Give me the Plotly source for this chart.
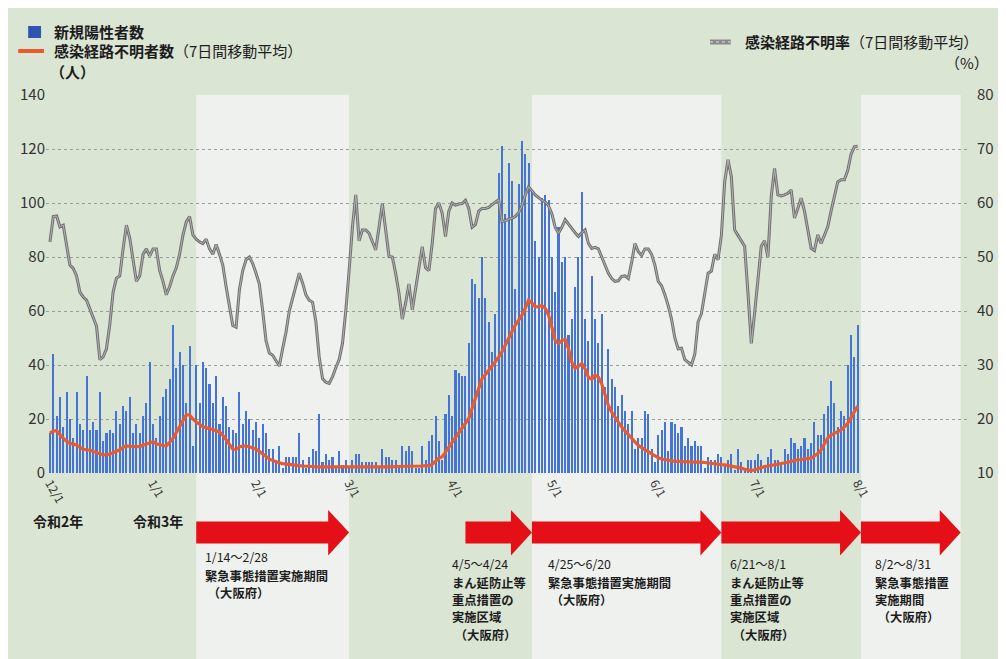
import pandas as pd
import plotly.graph_objects as go

# ---------------- data ----------------
start_date = "2020-12-01"

new_cases = [
    15, 44, 21, 28, 17, 30, 20, 13, 30, 18, 16, 36, 16, 19, 16, 30, 12, 15, 16, 15,
    23, 18, 25, 23, 28, 15, 18, 15, 21, 26, 41, 18, 13, 21, 28, 31, 35, 55, 39, 45,
    40, 26, 47, 10, 40, 26, 41, 39, 33,
    26, 36, 18, 28, 25, 17, 16, 15, 30, 18, 23, 20, 16, 19, 13, 18, 15, 9, 9, 5,
    10, 2, 6, 6, 6, 6, 15, 5, 2, 6, 9, 8, 22, 4, 7, 5, 6, 2, 8, 3,
    5, 2, 5, 7, 7, 4, 4, 4, 4,
    4, 2, 9, 6, 6, 5, 5, 3, 10, 8, 10, 8, 2, 2, 10, 5, 12, 14, 21, 12,
    5, 22, 29, 21, 38, 37, 36, 36, 48, 72, 70, 65, 80, 65, 56, 45, 59, 111, 121, 96,
    115, 108, 68, 107, 123, 118, 115, 105, 86,
    80, 102, 103, 101, 80, 67, 91, 78, 80, 51, 57, 69, 80, 104, 57, 49, 73, 57, 48, 59,
    32, 46, 35, 32, 25, 29, 23, 18, 23, 9, 13, 13, 23, 22, 9, 4, 14, 16, 19, 8,
    19, 18, 15, 17, 10, 13, 10, 12, 10,
    10, 2, 6, 5, 5, 7, 6, 3, 5, 7, 1, 9, 4, 1, 5, 5, 5, 7, 5, 3,
    6, 9, 5, 5, 3, 9, 7, 13, 11, 9, 10, 13, 9, 11, 19, 14, 14, 22, 25, 34,
    26, 17, 23, 21, 40, 51, 43, 55,
]

unknown_avg = [
    14.8, 15.5, 15.7, 14.2, 12.8, 11.8, 11.0, 10.7, 10.4, 9.5,
    8.8, 8.6, 8.5, 8.0, 7.5, 7.0, 6.7, 6.8, 7.0, 7.5,
    7.9, 8.6, 9.5, 10.0, 9.9, 9.8, 9.8, 9.8, 10.3, 10.7,
    11.2, 11.6, 10.8, 10.4, 10.2, 10.0, 11.5, 12.8, 15.0, 17.1,
    19.5, 21.5, 21.5, 20.0, 19.0, 18.0, 17.1, 16.8, 16.5,
    16.0, 15.6, 15.2, 14.0, 12.3, 10.5, 8.8, 8.8, 9.6, 10.0,
    10.0, 9.7, 9.4, 8.8, 8.0, 7.0, 6.0, 5.2, 4.6, 4.1,
    3.8, 3.5, 3.3, 3.1, 3.0, 2.8, 2.7, 2.6, 2.6, 2.5,
    2.4, 2.3, 2.3, 2.2, 2.2, 2.2, 2.1, 2.1, 2.1, 2.1,
    2.1, 2.1, 2.1, 2.1, 2.1, 2.1, 2.1, 2.1, 2.1,
    2.2, 2.2, 2.3, 2.3, 2.3, 2.3, 2.4, 2.4, 2.4, 2.5,
    2.5, 2.5, 2.6, 2.6, 2.6, 2.7, 2.7, 3.2, 4.5, 5.5,
    6.0, 7.8, 9.8, 11.6, 13.4, 15.3, 17.1, 18.6, 20.2, 24.0,
    27.6, 31.5, 35.0, 36.5, 38.0, 39.6, 41.2, 43.0, 44.9, 47.4,
    49.9, 52.3, 54.8, 56.6, 58.5, 61.0, 64.0, 63.0, 61.5,
    61.6, 62.0, 61.0, 58.5, 54.0, 49.0, 48.0, 49.0, 49.5, 46.0,
    41.0, 38.8, 39.5, 40.6, 38.5, 35.5, 34.7, 36.3, 35.5, 33.0,
    29.0, 25.0, 22.5, 20.5, 18.6, 17.0, 15.6, 14.3, 13.0, 11.6,
    10.2, 9.4, 8.6, 8.0, 7.3, 6.4, 5.6, 5.2, 4.9, 4.6,
    4.4, 4.3, 4.3, 4.2, 4.2, 4.1, 4.1, 4.0, 4.0,
    4.0, 3.9, 3.7, 3.5, 3.3, 3.2, 3.1, 3.0, 2.8, 2.7,
    2.5, 2.2, 1.8, 1.4, 1.0, 0.9, 1.2, 1.7, 2.2, 2.4,
    2.6, 2.8, 3.0, 3.2, 3.4, 3.7, 4.0, 4.3, 4.7, 4.9,
    5.0, 5.2, 5.3, 5.5, 6.3, 7.2, 8.5, 11.0, 13.0, 14.0,
    14.6, 15.3, 16.0, 17.0, 18.4, 20.5, 22.5, 24.8,
]

unknown_rate = [
    52.8, 57.5, 57.6, 55.6, 55.9, 51.9, 48.5, 47.9, 46.5, 43.5,
    42.6, 42.0, 40.2, 38.8, 37.2, 31.0, 31.5, 33.0, 37.5, 43.5,
    46.1, 46.5, 51.5, 55.9, 53.5, 49.5, 45.5, 46.5, 50.5, 51.5,
    50.2, 51.5, 51.5, 47.5, 45.5, 43.0, 44.5, 46.5, 48.0, 50.5,
    54.0, 56.5, 57.5, 54.1, 53.3, 52.8, 52.5, 53.3, 51.5, 50.5,
    52.3, 50.5, 48.5, 44.5, 40.5, 37.3, 37.0, 44.0, 47.5, 49.5,
    50.0, 48.8, 47.0, 45.0, 40.0, 34.5, 32.2, 31.8, 30.8, 29.8,
    33.0, 36.0, 40.0, 42.3, 45.0, 47.0, 45.2, 43.0, 42.0, 41.6,
    38.0, 31.5, 27.5, 26.8, 26.6, 27.8, 29.5, 31.0, 34.0, 40.0,
    47.5, 55.5, 61.5, 53.0,
    55.0, 55.0, 54.4, 53.0, 51.3, 55.5,
    59.9, 55.0, 50.1, 50.0, 47.0, 43.3, 38.5, 41.5, 45.0, 40.2,
    44.0, 48.0, 51.9, 48.0, 47.5, 52.5, 59.0, 60.0, 58.1, 53.8,
    58.5, 60.0, 59.6, 59.8, 59.9, 60.5, 59.0, 55.5, 56.0, 58.5,
    59.0, 59.0, 59.2, 59.7, 60.2, 60.6, 56.5, 56.7, 56.9, 57.2,
    57.5, 58.2, 59.5, 61.5, 63.0, 62.2, 61.5, 61.0, 60.5, 60.2,
    59.5, 58.0, 55.5, 54.4, 55.5, 56.9, 56.0, 55.3, 54.5, 53.8,
    54.5, 55.0, 52.5, 51.6, 51.8, 51.5, 50.0, 48.5, 47.0, 46.0,
    45.5, 45.6, 46.4, 46.5, 46.0, 49.0, 52.5, 51.0, 50.3, 51.5,
    51.5, 50.5, 48.5, 45.5, 44.7, 43.0, 41.0, 38.5, 35.0, 33.0,
    33.1, 31.0,
    30.5, 30.0, 32.0, 38.0, 39.5, 43.0, 47.0, 47.4,
    50.5, 49.5, 54.0, 64.0, 68.0, 64.9, 55.0, 54.0, 53.0, 52.0,
    43.3, 34.0, 39.6, 46.4, 52.0, 53.0, 50.0, 61.2, 66.4, 61.5,
    61.3, 61.5, 61.8, 62.4, 57.2, 59.0, 60.9, 58.5, 55.0, 51.6,
    51.2, 54.1, 52.5, 54.0, 55.6, 58.5, 61.5, 63.9, 64.3, 64.3,
    66.0, 69.0, 70.4, 70.5,
]

month_ticks = ["2020-12-01", "2021-01-01", "2021-02-01", "2021-03-01", "2021-04-01",
               "2021-05-01", "2021-06-01", "2021-07-01", "2021-08-01"]
month_labels = ["12/1", "1/1", "2/1", "3/1", "4/1", "5/1", "6/1", "7/1", "8/1"]

period_starts = ["2021-01-14", "2021-04-05", "2021-04-25", "2021-06-21", "2021-08-02"]
period_ends = ["2021-02-28", "2021-04-24", "2021-06-20", "2021-08-01", "2021-08-31"]
period_is_emergency = [True, False, True, False, True]
period_dates = ["1/14〜2/28", "4/5〜4/24", "4/25〜6/20", "6/21〜8/1", "8/2〜8/31"]
period_texts = [
    ["緊急事態措置実施期間", " （大阪府）"],
    ["まん延防止等", "重点措置の", "実施区域", " （大阪府）"],
    ["緊急事態措置実施期間", " （大阪府）"],
    ["まん延防止等", "重点措置の", "実施区域", " （大阪府）"],
    ["緊急事態措置", "実施期間", " （大阪府）"],
]
# (left x, centre y of date line) in picture pixels
period_text_pos = [(203, 557), (452, 564), (549, 564), (732, 564), (878, 564)]
DATE_GAP = 18.5
LINE_STEP = 17.4
PERIOD_FONT = 12.3

# ---------------- layout helpers ----------------
# picture pixel frame (page has an 8px body margin)
PAGE_W, PAGE_H, OFF = 1006, 659, 8
W, H = PAGE_W - OFF, PAGE_H - OFF
L, R, T, B = 44, 975, 95, 473  # plot area in picture pixels


def fx(px):
    return (px - L) / (R - L)


def fy(py):
    return (B - py) / (B - T)


dates = pd.date_range(start_date, periods=len(new_cases), freq="D")
day0 = pd.Timestamp(start_date)
px_per_day = 3.349
x_left = day0 + pd.Timedelta(days=(L - 48) / px_per_day)
x_right = day0 + pd.Timedelta(days=(R - 48) / px_per_day)

FONT = "Noto Sans CJK JP"
TXT = "#1c1c1c"

fig = go.Figure()
fig.add_trace(go.Bar(
    x=dates, y=new_cases, width=0.62 * 86400000,
    marker=dict(color="#4474d8", line=dict(width=0)),
    name="新規陽性者数", yaxis="y"))
fig.add_trace(go.Scatter(
    x=dates, y=unknown_avg, mode="lines",
    line=dict(color="#ea5a2a", width=3.2), name="感染経路不明者数", yaxis="y"))
fig.add_trace(go.Scatter(
    x=dates, y=unknown_rate, mode="lines",
    line=dict(color="#707070", width=3.0), name="感染経路不明率", yaxis="y2"))
fig.add_trace(go.Scatter(
    x=dates, y=unknown_rate, mode="lines",
    line=dict(color="#b4b4b4", width=1.0), hoverinfo="skip", yaxis="y2"))

shapes = []
annotations = []


def fmt(ts):
    return ts.strftime("%Y-%m-%d_%H:%M")


for s, e, emerg, dtxt, lines, (tx, ty) in zip(period_starts, period_ends,
                                               period_is_emergency, period_dates,
                                               period_texts, period_text_pos):
    t0 = pd.Timestamp(s)
    t1 = pd.Timestamp(e) + pd.Timedelta(days=1)
    if emerg:
        shapes.append(dict(type="rect", xref="x", yref="paper", x0=t0, x1=t1,
                           y0=fy(PAGE_H), y1=1, fillcolor="#eef1ed", line=dict(width=0),
                           layer="below"))
    th = t1 - pd.Timedelta(days=6.3)
    bt, bb, ht, hb, hm = fy(521.5), fy(543.5), fy(510), fy(555.5), fy(532.5)
    path = (f"M {fmt(t0)},{bt} L {fmt(th)},{bt} L {fmt(th)},{ht} L {fmt(t1)},{hm} "
            f"L {fmt(th)},{hb} L {fmt(th)},{bb} L {fmt(t0)},{bb} Z")
    shapes.append(dict(type="path", xref="x", yref="paper", path=path,
                       fillcolor="#e50f17", line=dict(width=0), layer="above"))
    annotations.append(dict(xref="paper", yref="paper", x=fx(tx), y=fy(ty),
                            xanchor="left", yanchor="middle", showarrow=False,
                            text=dtxt, borderpad=0,
                            font=dict(family=FONT, size=PERIOD_FONT, color=TXT)))
    for i, line in enumerate(lines):
        annotations.append(dict(xref="paper", yref="paper", x=fx(tx),
                                y=fy(ty + DATE_GAP + i * LINE_STEP),
                                xanchor="left", yanchor="middle", showarrow=False,
                                text=f"<b>{line}</b>", borderpad=0,
                                font=dict(family=FONT, size=PERIOD_FONT, color=TXT)))

# legend marks
shapes.append(dict(type="rect", xref="paper", yref="paper", x0=fx(26), x1=fx(39),
                   y0=fy(38), y1=fy(26), fillcolor="#2f55b0", line=dict(width=0)))
shapes.append(dict(type="line", xref="paper", yref="paper", x0=fx(16), x1=fx(42),
                   y0=fy(51), y1=fy(51), line=dict(color="#ea5a2a", width=4)))
shapes.append(dict(type="line", xref="paper", yref="paper", x0=fx(713), x1=fx(734),
                   y0=fy(42), y1=fy(42), line=dict(color="#8a8a8a", width=5)))
shapes.append(dict(type="line", xref="paper", yref="paper", x0=fx(713), x1=fx(734),
                   y0=fy(42), y1=fy(42), line=dict(color="#c4c4c4", width=1.5, dash="dot")))

for text, x, y, size, anchor in [
    ("<b>新規陽性者数</b>", 51, 31, 15, "left"),
    ("<b>感染経路不明者数</b>（7日間移動平均）", 51, 51, 15, "left"),
    ("<b>（人）</b>", 47, 72, 15, "left"),
    ("<b>感染経路不明率</b>（7日間移動平均）", 747, 42, 15, "left"),
    ("（%）", 995, 62, 15, "right"),
    ("<b>令和2年</b>", 30, 521, 14, "left"),
    ("<b>令和3年</b>", 131, 521, 14, "left"),
]:
    annotations.append(dict(xref="paper", yref="paper", x=fx(x), y=fy(y),
                            xanchor=anchor, yanchor="middle", showarrow=False, text=text,
                            borderpad=0, font=dict(family=FONT, size=size, color=TXT)))

fig.update_layout(
    width=W, height=H,
    margin=dict(l=L - OFF, r=PAGE_W - R, t=T - OFF, b=PAGE_H - B, pad=0),
    paper_bgcolor="#dbe5d4", plot_bgcolor="rgba(0,0,0,0)",
    font=dict(family=FONT, color="#333333"),
    showlegend=False, bargap=0,
    xaxis=dict(type="date", range=[x_left, x_right], tickvals=month_ticks,
               ticktext=month_labels, tickangle=60, showgrid=False, zeroline=False,
               showline=False, ticks="", tickfont=dict(size=12, color="#333333")),
    yaxis=dict(range=[0, 140], tickvals=list(range(0, 141, 20)), showgrid=True,
               gridcolor="#9c9c9c", griddash="dot", gridwidth=1, zeroline=False,
               showline=False, ticks="", tickfont=dict(size=15, color="#333333")),
    yaxis2=dict(range=[10, 80], tickvals=list(range(10, 81, 10)), overlaying="y",
                side="right", showgrid=False, zeroline=False, showline=False, ticks="",
                ticklabelstandoff=6, tickfont=dict(size=15, color="#333333")),
    shapes=shapes, annotations=annotations,
)

fig.write_html("out.html")
